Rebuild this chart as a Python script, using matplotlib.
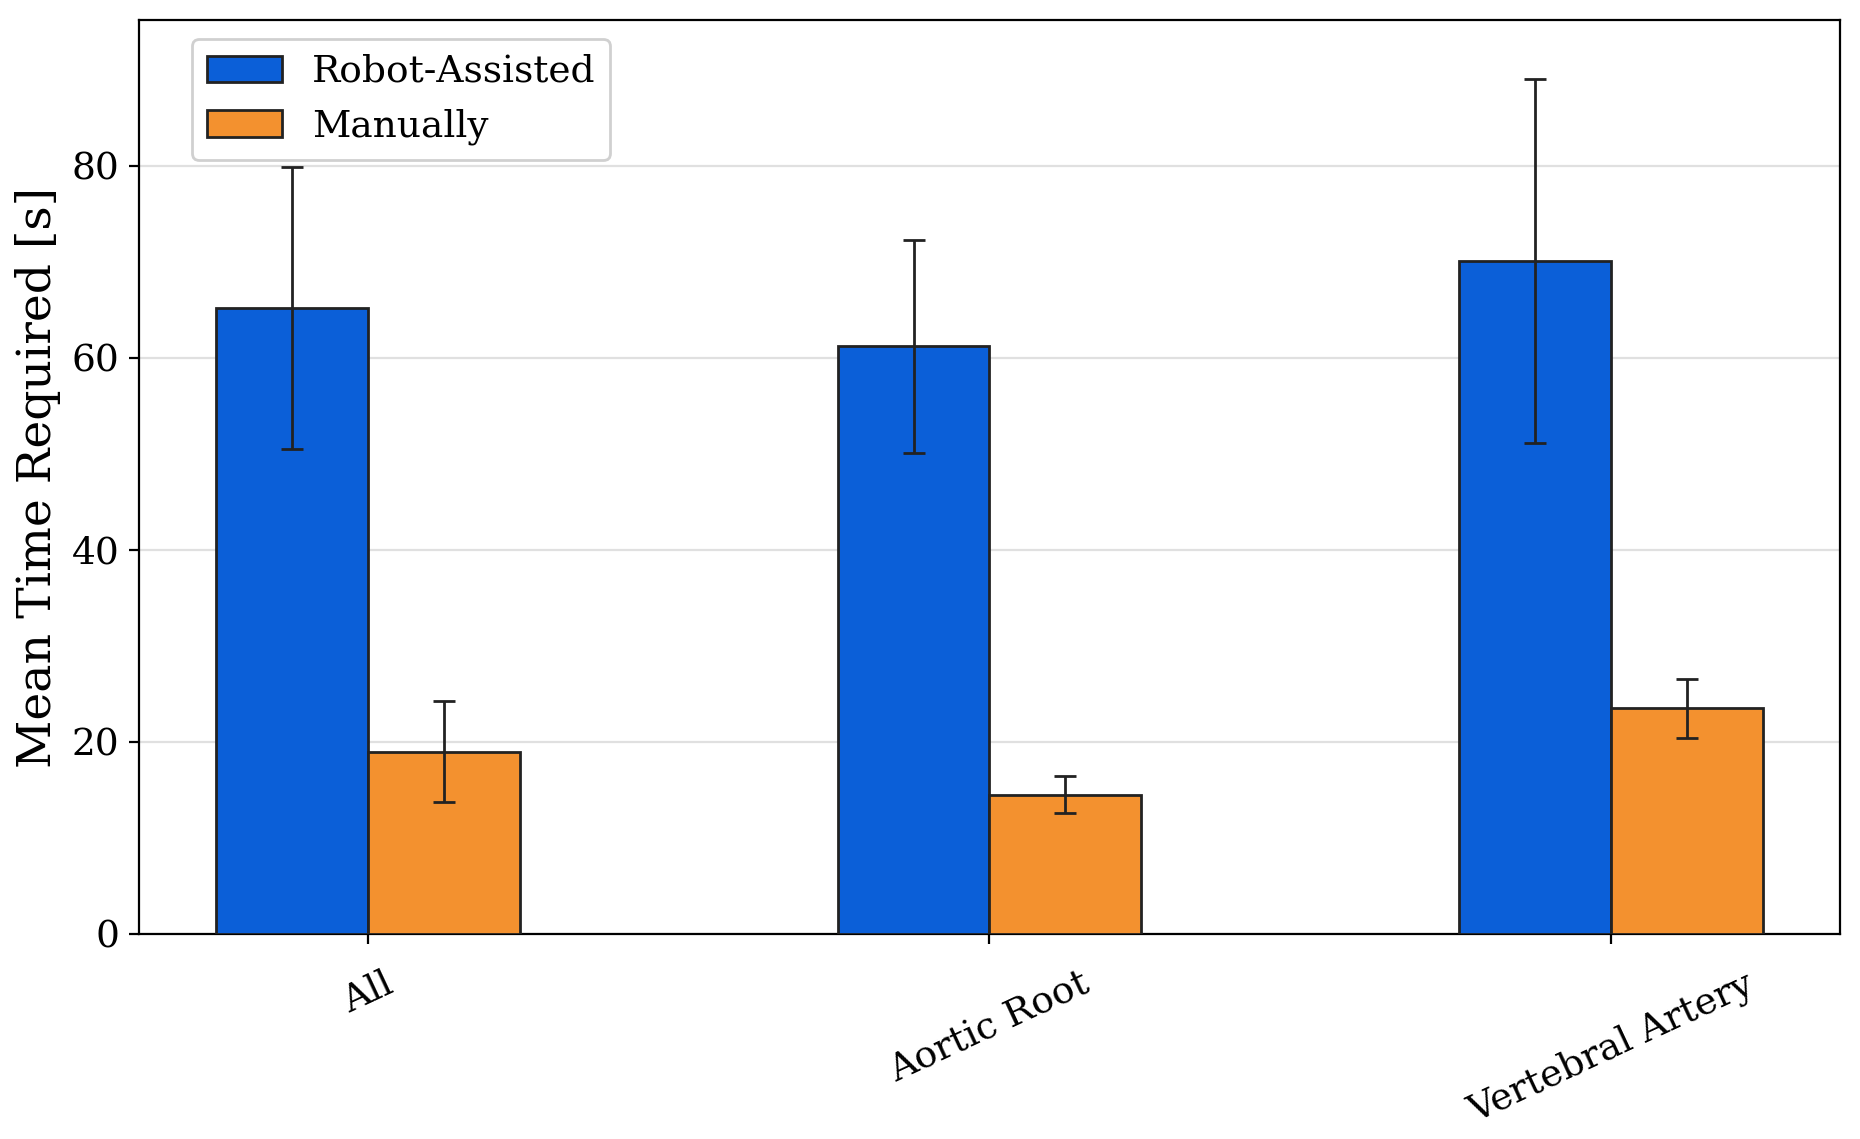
import matplotlib
matplotlib.use("Agg")
import matplotlib.pyplot as plt
import numpy as np

categories = ["All", "Aortic Root", "Vertebral Artery"]
robot_mean = [65.2, 61.2, 70.1]
robot_err = [14.7, 11.05, 19.0]
manual_mean = [19.0, 14.5, 23.5]
manual_err = [5.3, 1.95, 3.1]
series_names = ["Robot-Assisted", "Manually"]

plt.rcParams['font.family'] = ['DejaVu Serif']

fig, ax = plt.subplots(figsize=(9.3, 5.695), dpi=200)
x = np.arange(len(categories))
w = 0.244
err_kw = dict(ecolor="#222222", elinewidth=1.0, capsize=4, capthick=1.0)
ax.bar(x - w/2, robot_mean, w, yerr=robot_err, color="#0b5fd8", edgecolor="#222222",
       linewidth=1.0, label=series_names[0], error_kw=err_kw, zorder=3)
ax.bar(x + w/2, manual_mean, w, yerr=manual_err, color="#f3912f", edgecolor="#222222",
       linewidth=1.0, label=series_names[1], error_kw=err_kw, zorder=3)

ax.set_xticks(x)
ax.set_xticklabels(categories, rotation=25, ha="center", fontsize=13.5)
ax.tick_params(axis='x', pad=8)
ax.tick_params(axis='y', labelsize=13.5)
ax.set_ylabel("Mean Time Required [s]", fontsize=17)
ax.set_ylim(0, 95.2)
ax.set_yticks([0, 20, 40, 60, 80])
ax.yaxis.grid(True, color="#e0e0e0", linewidth=0.8, zorder=0)
ax.set_axisbelow(True)
ax.legend(loc="upper left", fontsize=13.5, bbox_to_anchor=(0.02, 1.0), framealpha=1.0,
          edgecolor="#d0d0d0")
fig.subplots_adjust(left=0.0747, right=0.9892, top=0.9824, bottom=0.18)
fig.savefig("out.png", dpi=200)
